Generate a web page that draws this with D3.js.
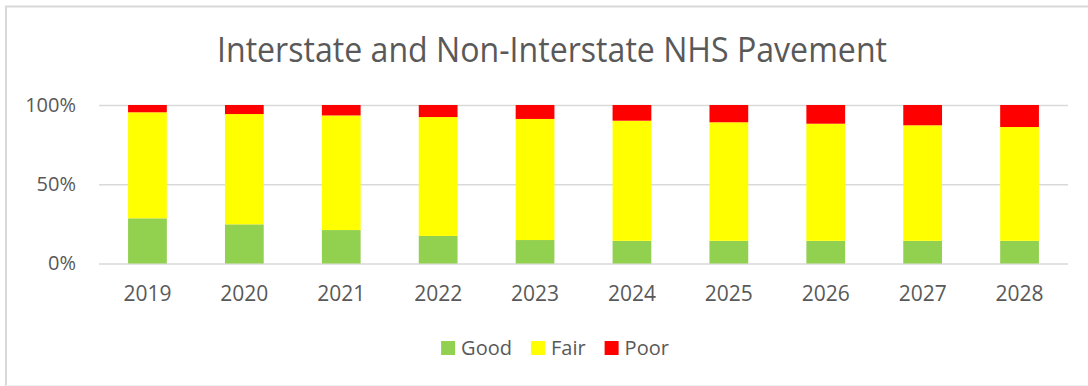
<!DOCTYPE html>
<html>
<head>
<meta charset="utf-8">
<script src="https://cdn.jsdelivr.net/npm/d3@7/dist/d3.min.js"></script>
<style>
  html, body { margin: 0; padding: 0; background: #ffffff; }
  svg { display: block; }
  text { font-family: "Open Sans", "Liberation Sans", sans-serif; fill: #595959; }
</style>
</head>
<body>
<svg id="chart" width="1088" height="386"></svg>
<script>
// Pavement condition shares (percent of lane-miles) by year
const years = ["2019", "2020", "2021", "2022", "2023", "2024", "2025", "2026", "2027", "2028"];
const good  = [28.5, 24.7, 21.1, 17.4, 14.8, 14.3, 14.3, 14.3, 14.3, 14.3];
const poor  = [4.6, 5.7, 6.6, 7.6, 8.8, 9.9, 10.9, 11.8, 12.8, 13.9];
const fair  = years.map((_, i) => +(100 - good[i] - poor[i]).toFixed(1));

const seriesNames  = ["Good", "Fair", "Poor"];
const seriesColors = ["#92d050", "#ffff00", "#ff0000"];
const yTicks = [0, 50, 100];
const title = "Interstate and Non-Interstate NHS Pavement";

const svg = d3.select("#chart");
const W = 1088, H = 386;

// chart frame
svg.append("path")
  .attr("d", `M6,${H + 2} V6.5 H${W + 2}`)
  .attr("fill", "none").attr("stroke", "#d9d9d9").attr("stroke-width", 2);
svg.append("line")
  .attr("x1", 6).attr("x2", W).attr("y1", 385.5).attr("y2", 385.5)
  .attr("stroke", "#f0f0f0").attr("stroke-width", 1);

// title
svg.append("text")
  .attr("x", 552).attr("y", 62)
  .attr("text-anchor", "middle")
  .attr("font-size", 35)
  .attr("font-weight", 400)
  .attr("textLength", 670)
  .attr("lengthAdjust", "spacingAndGlyphs")
  .text(title);

const plot = { left: 99, right: 1068, top: 105, bottom: 263.5 };

const x = d3.scaleBand()
  .domain(years)
  .range([plot.left, plot.right])
  .paddingInner(0.6)
  .paddingOuter(0.3);

const y = d3.scaleLinear()
  .domain([0, 100])
  .range([plot.bottom, plot.top]);

// gridlines and y labels
const yAxis = d3.axisLeft(y)
  .tickValues(yTicks)
  .tickSize(-(plot.right - plot.left))
  .tickPadding(23)
  .tickFormat(d => d + "%");

const gy = svg.append("g")
  .attr("transform", `translate(${plot.left},0)`)
  .call(yAxis);
gy.select(".domain").remove();
gy.selectAll(".tick line").attr("stroke", "#d9d9d9").attr("stroke-width", 1.5);
gy.selectAll(".tick text")
  .attr("font-size", 20)
  .attr("fill", "#595959")
  .style("font-family", '"Open Sans", "Liberation Sans", sans-serif');

// stacked bars
const rows = years.map((yr, i) => ({ year: yr, Good: good[i], Fair: fair[i], Poor: poor[i] }));
const stack = d3.stack().keys(seriesNames)(rows);
const color = d3.scaleOrdinal().domain(seriesNames).range(seriesColors);

svg.append("g")
  .selectAll("g")
  .data(stack)
  .join("g")
  .attr("fill", d => color(d.key))
  .selectAll("rect")
  .data(d => d)
  .join("rect")
  .attr("x", d => x(d.data.year))
  .attr("width", x.bandwidth())
  .attr("y", d => y(d[1]))
  .attr("height", d => y(d[0]) - y(d[1]));

// x axis labels
const xAxis = d3.axisBottom(x).tickSize(0).tickPadding(23);
const gx = svg.append("g")
  .attr("transform", `translate(0,${plot.bottom})`)
  .call(xAxis);
gx.select(".domain").remove();
gx.selectAll(".tick text")
  .attr("font-size", 21)
  .attr("fill", "#595959")
  .style("font-family", '"Open Sans", "Liberation Sans", sans-serif');

// legend
const legend = svg.append("g");
const sq = 14, gapText = 6, gapItem = 19, legendY = 341;
let cursor = 0;
seriesNames.forEach((name, i) => {
  const g = legend.append("g");
  g.append("rect").attr("width", sq).attr("height", sq).attr("y", legendY).attr("fill", seriesColors[i]);
  const t = g.append("text")
    .attr("x", sq + gapText).attr("y", legendY + sq / 2)
    .attr("dy", "0.35em")
    .attr("font-size", 20)
    .text(name);
  const w = sq + gapText + t.node().getComputedTextLength();
  g.attr("transform", `translate(${cursor},0)`);
  cursor += w + gapItem;
});
const legendWidth = cursor - gapItem;
legend.attr("transform", `translate(${555 - legendWidth / 2},0)`);
</script>
</body>
</html>
